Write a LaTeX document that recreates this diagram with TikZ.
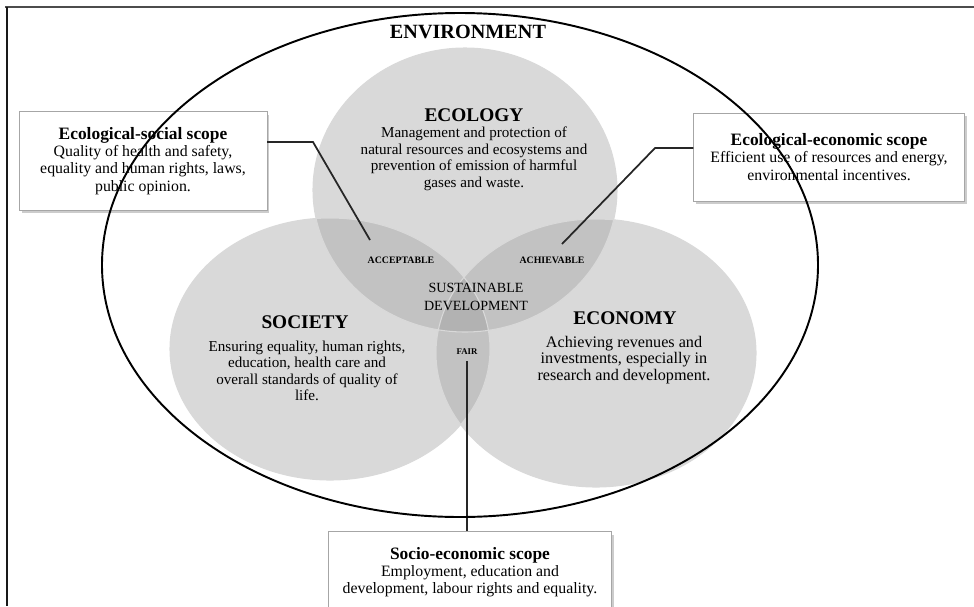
\documentclass[tikz,border=0pt]{standalone}
\usepackage{fontspec}
\setmainfont{Liberation Serif}
\usetikzlibrary{shadows}

\begin{document}
\begin{tikzpicture}[x=0.02cm, y=-0.02cm,
    onezone/.style = {fill=black!15},
    twozone/.style = {fill=black!24},
    corezone/.style = {fill=black!30},
    rim/.style = {draw=white!85!black, line width=0.6pt},
    head/.style = {font=\fontsize{11}{12}\selectfont\bfseries},
    body/.style = {align=center, font=\fontsize{8.6}{9.4}\selectfont},
    tag/.style = {font=\fontsize{5.6}{6}\selectfont\bfseries},
    scopebox/.style = {draw=black!35, fill=white, align=center,
      font=\fontsize{9}{9.8}\selectfont,
      drop shadow={shadow xshift=1.4pt, shadow yshift=-1.8pt, fill=black!40}},
    link/.style = {draw=black!85, line width=1pt}]
  \useasboundingbox (0,0) rectangle (974,606);

  % frame
  \draw[black!70, line width=0.8pt] (5,7) -- (974,7);
  \draw[black!90, line width=0.8pt] (7,7) -- (7,606);

  % the three circles
  \def\ecoshape{(465,190) ellipse [x radius=152, y radius=142]}
  \def\socshape{(330,349) ellipse [x radius=160, y radius=131]}
  \def\econshape{(596,353) ellipse [x radius=160, y radius=134]}
  \fill[onezone] \ecoshape;
  \fill[onezone] \socshape;
  \fill[onezone] \econshape;
  \begin{scope}
    \clip \ecoshape;
    \fill[twozone] \socshape;
    \fill[twozone] \econshape;
  \end{scope}
  \begin{scope}
    \clip \socshape;
    \fill[twozone] \econshape;
  \end{scope}
  \begin{scope}
    \clip \ecoshape;
    \clip \socshape;
    \fill[corezone] \econshape;
  \end{scope}
  \draw[rim] \ecoshape;
  \draw[rim] \socshape;
  \draw[rim] \econshape;

  % texts in the circles
  \node[head, font=\fontsize{11.5}{12}\selectfont\bfseries] (env) at (468,32) {ENVIRONMENT};
  \node[head] (ecohead) at (474,115) {ECOLOGY};
  \node[body] (ecotext) at (474,159) {Management and protection of\\
    natural resources and ecosystems and\\ prevention of emission of harmful\\ gases and waste.};
  \node[head] (sochead) at (305,322) {SOCIETY};
  \node[body] (soctext) at (307,371) {Ensuring equality, human rights,\\
    education, health care and\\ overall standards of quality of\\ life.};
  \node[head] (econhead) at (625,318) {ECONOMY};
  \node[body, font=\fontsize{9.2}{9.4}\selectfont] (econtext) at (624,360) {Achieving revenues and\\
    investments, especially in\\ research and development.};
  \node[tag] (acc) at (401,260) {ACCEPTABLE};
  \node[tag] (ach) at (552,260) {ACHIEVABLE};
  \node[body, font=\fontsize{8}{10.6}\selectfont] (sd) at (476,297) {SUSTAINABLE\\ DEVELOPMENT};
  \node[tag, font=\fontsize{5}{6}\selectfont\bfseries] (fair) at (467,352) {FAIR};

  % scope boxes
  \node[scopebox, minimum width=141pt, minimum height=56pt] (lbox) at (143,161)
    {\textbf{\fontsize{9.9}{10}\selectfont Ecological-social scope}\\ Quality of health and safety,\\
     equality and human rights, laws,\\ public opinion.};
  \node[scopebox, minimum width=154pt, minimum height=50pt] (rbox) at (829,157)
    {\textbf{\fontsize{9.9}{10}\selectfont Ecological-economic scope}\\ Efficient use of resources and energy,\\
     environmental incentives.};
  \node[scopebox, minimum width=161pt, minimum height=46pt] (bbox) at (470,572)
    {\textbf{\fontsize{9.9}{10}\selectfont Socio-economic scope}\\ Employment, education and\\
     development, labour rights and equality.};

  % links
  \coordinate (lbend) at (313,142);
  \coordinate (lend) at (370,240);
  \coordinate (rbend) at (655,148);
  \coordinate (rend) at (562,244);
  \draw[link] (lbox.east |- lbend) -- (lbend) -- (lend);
  \draw[link] (rbox.west |- rbend) -- (rbend) -- (rend);
  \draw[link] (fair.south) -- (fair.south |- bbox.north);

  % environment
  \draw[black, line width=1.1pt] (460,265) ellipse [x radius=358, y radius=252];
\end{tikzpicture}
\end{document}
